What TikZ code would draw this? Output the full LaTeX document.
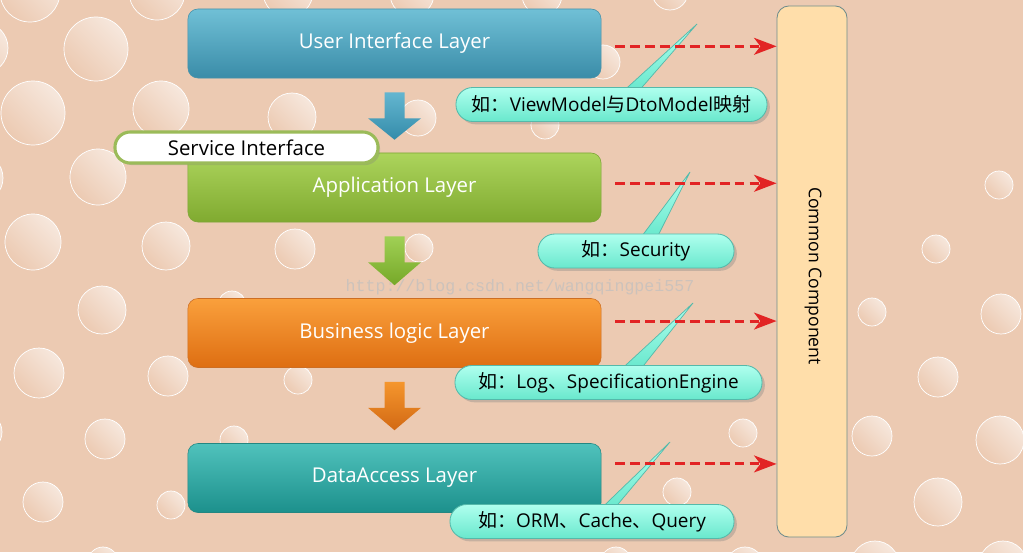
\documentclass[tikz,border=0pt]{standalone}
\usepackage{fontspec}
\setmainfont{Open Sans}
\newfontfamily\cjk{Noto Sans CJK SC}
\newfontfamily\urlfont{Liberation Mono}
\usetikzlibrary{positioning,arrows.meta,shadows,calc}

\definecolor{peach}{RGB}{236,202,178}
\definecolor{uitop}{RGB}{112,192,214}
\definecolor{uibot}{RGB}{58,140,168}
\definecolor{uiline}{RGB}{70,145,170}
\definecolor{apptop}{RGB}{172,212,92}
\definecolor{appbot}{RGB}{128,170,48}
\definecolor{appline}{RGB}{125,165,55}
\definecolor{biztop}{RGB}{250,160,60}
\definecolor{bizbot}{RGB}{222,110,18}
\definecolor{bizline}{RGB}{205,110,35}
\definecolor{daltop}{RGB}{80,194,188}
\definecolor{dalbot}{RGB}{28,144,140}
\definecolor{dalline}{RGB}{35,135,130}
\definecolor{bluetop}{RGB}{100,182,208}
\definecolor{bluebot}{RGB}{52,140,170}
\definecolor{greentop}{RGB}{160,208,85}
\definecolor{greenbot}{RGB}{118,168,40}
\definecolor{orangetop}{RGB}{245,150,45}
\definecolor{orangebot}{RGB}{210,105,20}
\definecolor{notetop}{RGB}{175,255,238}
\definecolor{notebot}{RGB}{105,232,205}
\definecolor{noteline}{RGB}{85,185,170}
\definecolor{svcline}{RGB}{155,187,89}
\definecolor{ccfill}{RGB}{255,222,170}
\definecolor{ccline}{RGB}{110,140,140}
\definecolor{dashred}{RGB}{226,36,36}

\pgfdeclarelayer{bg}
\pgfdeclarelayer{back}
\pgfsetlayers{bg,back,main}

\tikzset{
  bubble/.style={draw=white, line width=0.5pt, top color=white!55!peach, middle color=peach!94!white, bottom color=peach, shading angle=-45},
  layer/.style={rounded corners=0.25cm, minimum width=10.325cm, minimum height=1.725cm, text=white, font=\fontsize{14.5}{17}\selectfont},
  uibox/.style={layer, top color=uitop, bottom color=uibot, draw=uiline},
  appbox/.style={layer, top color=apptop, bottom color=appbot, draw=appline},
  bizbox/.style={layer, top color=biztop, bottom color=bizbot, draw=bizline},
  dalbox/.style={layer, top color=daltop, bottom color=dalbot, draw=dalline},
  flow/.style n args={2}{top color=#1, bottom color=#2},
  note/.style={rounded corners=0.42cm, minimum height=0.85cm, top color=notetop, bottom color=notebot, draw=noteline, line width=0.6pt, font=\fontsize{13.5}{16}\selectfont, drop shadow={shadow xshift=2pt, shadow yshift=-2pt, opacity=0.35}},
  pointer/.style={top color=notetop, bottom color=notebot, draw=noteline, line width=0.5pt},
  dasharrow/.style={dashred, line width=2.1pt, dash pattern=on 7pt off 3.6pt, -{Stealth[length=16pt, width=12pt, inset=4.5pt]}},
}

\begin{document}
\begin{tikzpicture}[x=0.025cm, y=-0.025cm]
\useasboundingbox (0,0) rectangle (1023,552);

% background with bubbles
\begin{pgfonlayer}{bg}
  \fill[peach] (0,0) rectangle (1023,552);
  \begin{scope}
    \clip (0,0) rectangle (1023,552);
    \foreach \x/\y/\r in {30/-8/30, 157/-8/28, 288/-8/25, 412/-6/22, 542/-5/20, 670/-8/18,
        -18/48/26, 96/49/32, 33/113/32, 161/109/28, 292/117/24, 418/118/18, 603/62/17, 545/125/14,
        -22/178/25, 98/177/28, 33/242/28, 166/246/24, 295/249/20, 419/248/14, 232/305/14,
        102/310/24, 39/373/25, 168/376/20, 298/380/14, -18/432/20, 105/439/20, 234/440/14,
        43/502/20, 171/505/14, 103/562/15, 743/433/14, 677/492/14, 616/562/15, 745/565/18,
        999/185/14, 936/249/14, 872/312/14, 1001/314/20, 938/377/20, 872/436/20, 1000/440/24,
        938/502/24, 875/565/24, 1003/565/24}
      \shade[bubble] (\x,\y) circle[radius=\r];
  \end{scope}
\end{pgfonlayer}

% layers
\node[uibox] (ui) at (394.5,43.5) {User Interface Layer};
\node[appbox] (app) at (394.5,187.5) {Application Layer};
\node[bizbox] (biz) at (394.5,333) {Business logic Layer};
\node[dalbox] (dal) at (394.5,478) {DataAccess Layer};

\foreach \a/\b/\t/\u in {ui/app/bluetop/bluebot, app/biz/greentop/greenbot, biz/dal/orangetop/orangebot}
  \path[flow={\t}{\u}] ($(\a.south)+(-10,14)$) -- ($(\a.south)+(10,14)$) -- ($(\a.south)+(10,40)$)
    -- ($(\a.south)+(26.5,40)$) -- ($(\b.north)+(0,-13)$) -- ($(\a.south)+(-26.5,40)$)
    -- ($(\a.south)+(-10,40)$) -- cycle;

\node[rounded corners=0.38cm, minimum width=6.575cm, minimum height=0.775cm, fill=white, draw=svcline, line width=2.2pt,
  font=\fontsize{14.5}{17}\selectfont, drop shadow={shadow xshift=1.5pt, shadow yshift=-1.5pt, opacity=0.3}] (svc) at (246.5,147.5) {Service Interface};

% common component
\node[rounded corners=0.3cm, minimum width=1.75cm, minimum height=13.275cm, fill=ccfill, draw=ccline, line width=0.6pt] (cc) at (812,271.5) {};
\node[rotate=-90, font=\fontsize{12.5}{14}\selectfont] (cctext) at (813,276) {Common Component};

% notes
\node[note, minimum width=7.775cm] (noteui) at (611.5,104.5) {{\cjk 如：}ViewModel{\cjk 与}DtoModel{\cjk 映射}};
\node[note, minimum width=4.9cm] (noteapp) at (636,251) {{\cjk 如：}Security};
\node[note, minimum width=7.675cm] (notebiz) at (608.5,382.5) {{\cjk 如：}Log{\cjk 、}SpecificationEngine};
\node[note, minimum width=7.1cm] (notedal) at (592,521.5) {{\cjk 如：}ORM{\cjk 、}Cache{\cjk 、}Query};

\begin{pgfonlayer}{back}
  \coordinate (tipui) at (697,24);
  \coordinate (tipapp) at (690,172);
  \coordinate (tipbiz) at (693,303);
  \coordinate (tipdal) at (670,442);
  \path[pointer] ($(noteui.north west)+(169,3)$) -- (tipui) -- ($(noteui.north west)+(184,3)$) -- cycle;
  \path[pointer] ($(noteapp.north west)+(104,3)$) -- (tipapp) -- ($(noteapp.north west)+(120,3)$) -- cycle;
  \path[pointer] ($(notebiz.north west)+(168,3)$) -- (tipbiz) -- ($(notebiz.north west)+(187,3)$) -- cycle;
  \path[pointer] ($(notedal.north west)+(153,3)$) -- (tipdal) -- ($(notedal.north west)+(166,3)$) -- cycle;
\end{pgfonlayer}

% dashed links to common component
\foreach \n/\dy in {ui/-2pt, app/3pt, biz/8.5pt, dal/10pt}
  \draw[dasharrow] ([xshift=10pt, yshift=\dy]\n.east) coordinate (s) -- (s -| cc.west);

\node[text=black!25, text opacity=0.7, font=\urlfont\fontsize{11.8}{13}\selectfont] (wm) at (520,287) {http://blog.csdn.net/wangqingpei557};
\end{tikzpicture}
\end{document}
